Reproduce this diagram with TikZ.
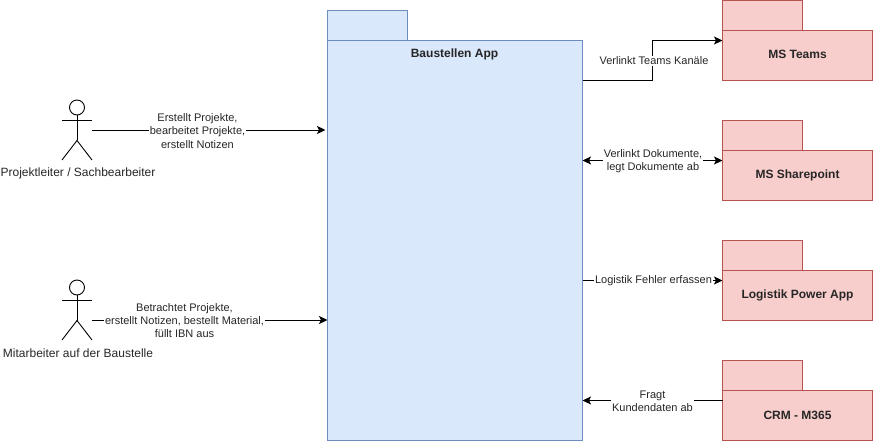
\documentclass[tikz,border=0pt]{standalone}
\usepackage{fontspec}
\setmainfont{Liberation Sans}
\usetikzlibrary{arrows.meta,calc}
\definecolor{blueF}{HTML}{DAE8FC}
\definecolor{blueD}{HTML}{6C8EBF}
\definecolor{redF}{HTML}{F8CECC}
\definecolor{redD}{HTML}{B85450}
\tikzset{
  x=1pt,y=-1pt,
  pkgblue/.style={draw=blueD,fill=blueF,line width=0.9pt,rectangle,inner sep=0,outer sep=0,anchor=north west},
  pkgred/.style={draw=redD,fill=redF,line width=0.9pt,rectangle,inner sep=0,outer sep=0,anchor=north west},
  pkgtitle/.style={font=\fontsize{12}{14}\selectfont\bfseries,text=black!85},
  actorline/.style={draw=black,line width=0.9pt},
  actorlabel/.style={font=\fontsize{12}{14}\selectfont,text=black!85},
  tip/.style={},
  conn/.style={draw=black,line width=0.9pt,-{Stealth[length=8.5pt,width=8pt,inset=2pt]}},
  biconn/.style={draw=black,line width=0.9pt,{Stealth[length=8.5pt,width=8pt,inset=2pt]}-{Stealth[length=8.5pt,width=8pt,inset=2pt]}},
  edgelabel/.style={font=\fontsize{11}{13.2}\selectfont,text=black!85,fill=white,align=center,inner sep=1pt},
}
\newcommand{\stickman}[3]{%
  \coordinate (#3) at (#1,#2);
  \draw[actorline] (#1,#2-22.5) circle[radius=7.5];
  \draw[actorline] (#1,#2-15) -- (#1,#2+10.5);
  \draw[actorline] (#1-15,#2-10) -- (#1+15,#2-10);
  \draw[actorline] (#1-15,#2+30) -- (#1,#2+10.5) -- (#1+15,#2+30);
}
\newcommand{\package}[6]{% style, name, x, y, width, height
  \node[#1,minimum width=80pt,minimum height=30pt] (#2tab) at (#3,#4) {};
  \node[#1,minimum width=#5pt,minimum height=#6pt] (#2) at (#3,#4+30) {};
}
\begin{document}
\begin{tikzpicture}
\useasboundingbox (0,0) rectangle (873,441);
% Baustellen App
\package{pkgblue}{app}{327.5}{10.5}{255}{400}
\node[pkgtitle,anchor=center] (apptitle) at (454.5,54.5) {Baustellen App};
% external packages
\package{pkgred}{teams}{722.5}{0.5}{150}{50}
\node[pkgtitle,yshift=1pt] (teamstitle) at (teams.center) {MS Teams};
\package{pkgred}{share}{722.5}{120.5}{150}{50}
\node[pkgtitle] (sharetitle) at (share.center) {MS Sharepoint};
\package{pkgred}{logi}{722.5}{240.5}{150}{50}
\node[pkgtitle] (logititle) at (logi.center) {Logistik Power App};
\package{pkgred}{crm}{722.5}{360.5}{150}{50}
\node[pkgtitle] (crmtitle) at (crm.center) {CRM - M365};
% actors
\stickman{77}{130}{pl}
\node[actorlabel] (pllabel) at (78,173.5) {Projektleiter / Sachbearbeiter};
\stickman{77}{310}{ma}
\node[actorlabel] (malabel) at (78,353.5) {Mitarbeiter auf der Baustelle};
\coordinate (plr) at (92,130);
\coordinate (mar) at (92,320);
% connectors
\draw[conn,shorten >=2pt] (plr) -- (plr -| app.west);
\node[edgelabel] (l1) at (197.5,131) {Erstellt Projekte,\\bearbeitet Projekte,\\erstellt Notizen};
\draw[conn] (mar) -- (mar -| app.west);
\node[edgelabel] (l2) at (184.5,320.5) {Betrachtet Projekte,\\erstellt Notizen, bestellt Material,\\füllt IBN aus};
\coordinate (a1) at (582.5,80.5);
\coordinate (a2) at (582.5,160.5);
\coordinate (a3) at (582.5,280.5);
\coordinate (a4) at (582.5,400.5);
\draw[conn] (a1) -- (652.5,80.5) -- (652.5,40.5) -- (teams.west |- 0,40.5);
\node[edgelabel] (l3) at (654,61) {Verlinkt Teams Kanäle};
\draw[biconn] (a2) -- (a2 -| share.west);
\node[edgelabel] (l4) at (653,161.5) {Verlinkt Dokumente,\\legt Dokumente ab};
\draw[conn] (a3) -- (a3 -| logi.west);
\node[edgelabel] (l5) at (653.5,281) {Logistik Fehler erfassen};
\draw[conn] (a4 -| crm.west) -- (a4);
\node[edgelabel] (l6) at (652.5,401) {Fragt\\Kundendaten ab};
\end{tikzpicture}
\end{document}
